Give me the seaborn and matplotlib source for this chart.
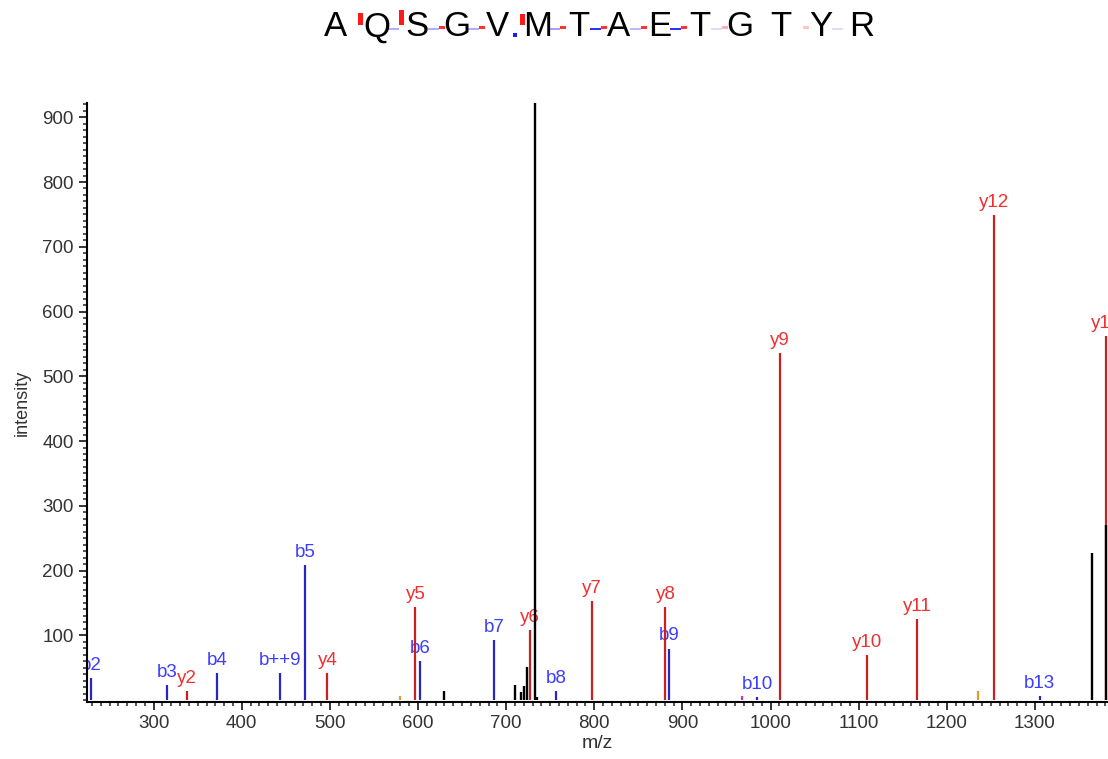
import matplotlib
matplotlib.use("Agg")
import matplotlib.pyplot as plt
from matplotlib.patches import Rectangle
from matplotlib.ticker import MultipleLocator
import seaborn as sns

sns.set_style("ticks")
plt.rcParams['font.family'] = ['Liberation Sans', 'DejaVu Sans']

# peptide sequence and fragment coverage marks in the title
seq = list("AQSGVMTAETGTYR")
b_alpha = [0, 0.35, 0.35, 0.35, 1.0, 0.4, 0.9, 0.3, 0.9, 0.15, 0, 0, 0.15]
y_alpha = [1, 1, 0.9, 0.9, 1, 0.9, 0.9, 0.9, 0.9, 0.35, 0, 0.25, 0]
y_size = [12, 15, 3, 3, 11, 3, 3, 3, 3, 3, 0, 3, 0]

# b ions
mz_b = [229.3, 315.5, 372.3, 443.0, 472.2, 602.0, 686.0, 756.3, 885.3, 985.2, 1305.3]
int_b = [33.6, 22.8, 41.8, 41.8, 208, 60, 93, 13.5, 79.4, 5, 6]
lab_b = ['b2', 'b3', 'b4', 'b++9', 'b5', 'b6', 'b7', 'b8', 'b9', 'b10', 'b13']

# y ions
mz_y = [338.2, 497.2, 597.0, 726.8, 797.2, 880.8, 1010.6, 1110.0, 1166.8, 1253.5, 1380.2]
int_y = [14, 41.8, 143.7, 108, 152.5, 143.7, 535.5, 69, 124.7, 748.6, 562]
lab_y = ['y2', 'y4', 'y5', 'y6', 'y7', 'y8', 'y9', 'y10', 'y11', 'y12', 'y13']

# unassigned peaks
mz_other = [629.2, 710.6, 717.4, 719.7, 724.2, 732.5, 735.0, 1364.7, 1380.9]
int_other = [14, 24, 13, 22, 51, 922, 5, 227, 270]
mz_orange = [579.2, 1235.3]
int_orange = [6, 14]
mz_pink = [967.4]
int_pink = [6]

W, H = 1108, 759
fig = plt.figure(figsize=(W / 100, H / 100), dpi=100)
ax = fig.add_axes([86.7 / W, 1 - 702 / H, 1 - 86.7 / W, (702 - 103) / H])

ax.vlines(mz_other, 0, int_other, color='black', lw=1.7, zorder=3)
ax.vlines(mz_orange, 0, int_orange, color='#d9a030', lw=1.6, zorder=2)
ax.vlines(mz_pink, 0, int_pink, color='#cc33cc', lw=1.6, zorder=2)
ax.vlines(mz_b, 0, int_b, color='#2525c8', lw=1.6, zorder=2)
ax.vlines(mz_y, 0, int_y, color='#cc2020', lw=1.6, zorder=2)

for mz, it, lab in zip(mz_b, int_b, lab_b):
    ax.annotate(lab, (mz, it), xytext=(0, 3), textcoords='offset points',
                ha='center', va='bottom', fontsize=13.5, color='#3d3dff',
                zorder=1, clip_on=True)
for mz, it, lab in zip(mz_y, int_y, lab_y):
    ax.annotate(lab, (mz, it), xytext=(0, 3), textcoords='offset points',
                ha='center', va='bottom', fontsize=13.5, color='#f03030',
                zorder=1, clip_on=True)

ax.set_xlim(224, 1383)
ax.set_ylim(-3, 922)
ax.set_xticks(range(300, 1301, 100))
ax.set_yticks(range(100, 901, 100))
ax.xaxis.set_minor_locator(MultipleLocator(10))
ax.yaxis.set_minor_locator(MultipleLocator(10))
ax.tick_params(which='major', length=6, width=1.3, labelsize=13.5, labelcolor='#333333')
ax.tick_params(which='minor', length=3, width=1.1)
for s in ['left', 'bottom']:
    ax.spines[s].set_linewidth(1.5)
    ax.spines[s].set_color('black')
sns.despine(ax=ax)

ax.set_xlabel('m/z', fontsize=14, color='#333333', labelpad=2)
ax.set_ylabel('intensity', fontsize=13, color='#333333', labelpad=8)

# sequence title with fragment marks
x0, dx, yc = 336, 40.4, 27
for i, aa in enumerate(seq):
    fig.text((x0 + i * dx) / W, 1 - yc / H, aa, fontsize=25, ha='center',
             va='center', color='black')
for k in range(len(seq) - 1):
    gx = x0 + (k + 0.5) * dx
    if b_alpha[k] > 0:
        if b_alpha[k] == 1.0:
            # strong b marker: small square, a bit lower
            fig.add_artist(Rectangle(((gx - 5) / W, 1 - 37 / H), 4 / W, 4 / H,
                                     transform=fig.transFigure, color='#1a1aff',
                                     alpha=b_alpha[k], lw=0))
        else:
            fig.add_artist(Rectangle(((gx - 9) / W, 1 - 30 / H), 11 / W, 1.6 / H,
                                     transform=fig.transFigure, color='#1a1aff',
                                     alpha=b_alpha[k], lw=0))
    if y_alpha[k] > 0:
        h = y_size[k]
        if h > 3:
            fig.add_artist(Rectangle(((gx + 2) / W, 1 - 25 / H), 5 / W, h / H,
                                     transform=fig.transFigure, color='#ff1a1a',
                                     alpha=y_alpha[k], lw=0))
        else:
            fig.add_artist(Rectangle(((gx + 2) / W, 1 - 29 / H), 6 / W, h / H,
                                     transform=fig.transFigure, color='#ff1a1a',
                                     alpha=y_alpha[k], lw=0))

fig.savefig('out.png', dpi=100)
